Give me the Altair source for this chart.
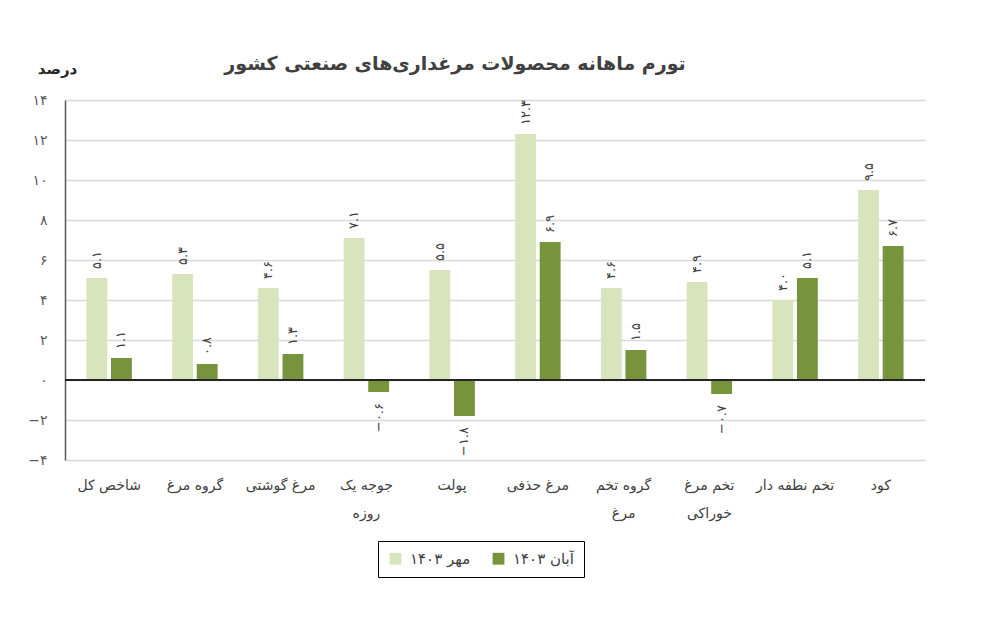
import altair as alt
import pandas as pd

categories = ["شاخص کل", "گروه مرغ", "مرغ گوشتی", "جوجه یک|روزه", "پولت",
              "مرغ حذفی", "گروه تخم|مرغ", "تخم مرغ|خوراکی", "تخم نطفه دار", "کود"]
series_names = ["مهر ۱۴۰۳", "آبان ۱۴۰۳"]
mehr = [5.1, 5.3, 4.6, 7.1, 5.5, 12.3, 4.6, 4.9, 4.0, 9.5]
aban = [1.1, 0.8, 1.3, -0.6, -1.8, 6.9, 1.5, -0.7, 5.1, 6.7]
ytick_values = [-4, -2, 0, 2, 4, 6, 8, 10, 12, 14]
ytick_labels = ["−۴", "−۲", "۰", "۲", "۴", "۶", "۸", "۱۰", "۱۲", "۱۴"]
colors = ["#d8e4bc", "#77933c"]

FONT = "DejaVu Sans"
fa_digits = str.maketrans("0123456789-", "۰۱۲۳۴۵۶۷۸۹−")


def fa(v):
    return f"{v:.1f}".translate(fa_digits)


rows = []
for i, c in enumerate(categories):
    for s, vals in zip(series_names, [mehr, aban]):
        rows.append({"cat": c, "series": s, "value": vals[i], "label": fa(vals[i])})
df = pd.DataFrame(rows)

label_expr = " : ".join(
    f"datum.value == {v} ? '{l}'" for v, l in zip(ytick_values, ytick_labels)
) + " : ''"

x_enc = alt.X("cat:N", sort=categories,
              scale=alt.Scale(paddingInner=0.47, paddingOuter=0.25),
              axis=alt.Axis(title=None, labelAngle=0, domain=False, ticks=False,
                            labelPadding=18, labelFontSize=14, labelColor="#404040",
                            labelFont=FONT, labelLineHeight=28, labelBaseline="top",
                            labelExpr="split(datum.label, '|')"))
xo_enc = alt.XOffset("series:N", sort=series_names,
                     scale=alt.Scale(paddingInner=0.15))
y_enc = alt.Y("value:Q", scale=alt.Scale(domain=[-4, 14], nice=False, zero=False),
              axis=alt.Axis(values=ytick_values, tickCount=20, labelExpr=label_expr,
                            labelOverlap=False,
                            title="درصد", titleAngle=0, titleX=-8, titleY=-32,
                            titleAlign="center", titleBaseline="middle",
                            titleFontSize=15, titleFontWeight="bold",
                            titleColor="#262626", titleFont=FONT,
                            labelFont=FONT, labelFontSize=14, labelColor="#595959",
                            labelPadding=18, ticks=False,
                            domain=True, domainColor="#595959", domainWidth=1.5,
                            grid=True, gridColor="#d9d9d9", gridWidth=1.5))

color_enc = alt.Color("series:N", sort=series_names,
                      scale=alt.Scale(domain=series_names, range=colors),
                      legend=alt.Legend(title=None, orient="none", legendX=313,
                                        legendY=441, direction="horizontal",
                                        symbolType="square", symbolSize=140,
                                        symbolStrokeWidth=0,
                                        labelFont=FONT, labelFontSize=15,
                                        labelColor="#404040", columnPadding=20,
                                        padding=10, strokeColor="black",
                                        fillColor="white", labelOffset=7))

base = alt.Chart(df)

bars = base.mark_bar().encode(x=x_enc, xOffset=xo_enc, y=y_enc, color=color_enc)

zero = alt.Chart(df).mark_rule(color="#262626", strokeWidth=1.5).encode(
    y=alt.datum(0))

pos_labels = base.transform_filter("datum.value >= 0").mark_text(
    angle=270, align="left", baseline="middle", dx=9, font=FONT, fontSize=13,
    color="#404040").encode(x=x_enc, xOffset=xo_enc, y=y_enc, text="label:N")

neg_labels = base.transform_filter("datum.value < 0").mark_text(
    angle=270, align="right", baseline="middle", dx=-11, font=FONT, fontSize=13,
    color="#404040").encode(x=x_enc, xOffset=xo_enc, y=y_enc, text="label:N")

chart = alt.layer(bars, zero, pos_labels, neg_labels).properties(
    width=860, height=360,
    autosize=alt.AutoSizeParams(type="none"),
    padding={"left": 57, "top": 92, "right": 63, "bottom": 150},
    title=alt.Title("تورم ماهانه محصولات مرغداری‌های صنعتی کشور",
                    font=FONT, fontSize=19, fontWeight="bold", color="#404040",
                    anchor="middle", dx=-40, offset=-13),
).configure_view(stroke=None)

chart.save("out.html", embed_options={"renderer": "svg", "actions": False})
